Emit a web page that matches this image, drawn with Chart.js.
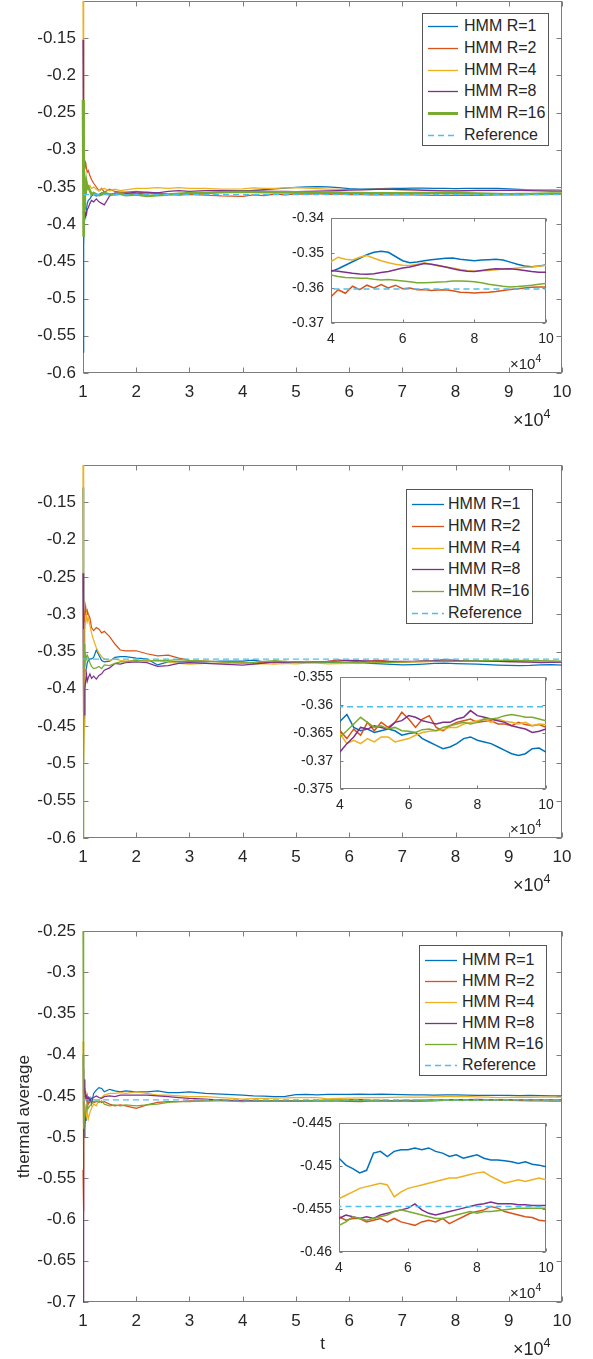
<!DOCTYPE html>
<html>
<head>
<meta charset="utf-8">
<script src="https://cdn.jsdelivr.net/npm/chart.js@4.4.0/dist/chart.umd.min.js"></script>
<style>
  body { margin: 0; background: #fff; }
  #fig { position: relative; width: 593px; height: 1359px; overflow: hidden; background: #fff;
         font-family: 'Liberation Sans', Arial, sans-serif; color: #262626; }
  #fig canvas { position: absolute; }
  .legend { position: absolute; background: #fff; border: 1px solid #555; box-sizing: border-box; }
  .legend-row { position: absolute; left: 0; right: 0; height: 20px; font-size: 16px; line-height: 20px; white-space: nowrap; }
  .legend-row svg { position: absolute; top: 0; }
  .legend-row span { position: absolute; top: 0; }
  .exp { position: absolute; white-space: nowrap; line-height: 1; }
  .exp sup { font-size: 0.7em; position: relative; top: -0.25em; vertical-align: top; }
</style>
</head>
<body>
<div id="fig"></div>
<script>
// time axis, in units of 10^4 steps
const t = [1.000, 1.008, 1.016, 1.025, 1.035, 1.05, 1.065, 1.08, 1.1, 1.13, 1.16, 1.2, 1.25, 1.3, 1.35, 1.4,
  1.5, 1.6, 1.7, 1.8, 2.0, 2.2, 2.4, 2.6, 2.8, 3.0, 3.3, 3.6,
  4.0, 4.2, 4.4, 4.6, 4.8, 5.0, 5.2, 5.4, 5.6, 5.8, 6.0, 6.2, 6.4, 6.6, 6.8, 7.0, 7.2, 7.4, 7.6, 7.8,
  8.0, 8.2, 8.4, 8.6, 8.8, 9.0, 9.2, 9.4, 9.6, 9.8, 10.0];

const seriesLabels = ['HMM R=1', 'HMM R=2', 'HMM R=4', 'HMM R=8', 'HMM R=16', 'Reference'];
const seriesColors = ['#0072BD', '#D95319', '#EDB120', '#7E2F8E', '#77AC30', '#4DBEEE'];

// panel 1
const p1R1 = [-0.572, -0.50, -0.43, -0.39, -0.385, -0.39, -0.38, -0.372, -0.368, -0.366, -0.362, -0.36, -0.362, -0.36, -0.358, -0.358,
  -0.36, -0.359, -0.358, -0.358, -0.359, -0.358, -0.358, -0.36, -0.36, -0.359, -0.358, -0.357,
  -0.3553, -0.3545, -0.3535, -0.3525, -0.3515, -0.3505, -0.3498, -0.3495, -0.3498, -0.3510, -0.3522, -0.3528, -0.3526, -0.3522, -0.3519, -0.3517,
  -0.3515, -0.3514, -0.3518, -0.3520, -0.3522, -0.3520, -0.3519, -0.3518, -0.3520, -0.3526, -0.3532, -0.3537, -0.3539, -0.3537, -0.3534];
const p1R2 = [-0.35, -0.32, -0.33, -0.325, -0.315, -0.317, -0.325, -0.33, -0.328, -0.335, -0.34, -0.345, -0.35, -0.355, -0.352, -0.357,
  -0.353, -0.356, -0.357, -0.357, -0.356, -0.358, -0.359, -0.36, -0.361, -0.36, -0.361, -0.362,
  -0.3625, -0.3605, -0.3615, -0.3595, -0.3605, -0.3592, -0.3600, -0.3590, -0.3600, -0.3592, -0.3602, -0.3600, -0.3605, -0.3604, -0.3607, -0.3606,
  -0.3605, -0.3608, -0.3612, -0.3613, -0.3614, -0.3613, -0.3612, -0.3610, -0.3607, -0.3604, -0.3602, -0.3600, -0.3598, -0.3597, -0.3597];
const p1R4 = [-0.10, -0.152, -0.30, -0.34, -0.345, -0.34, -0.35, -0.345, -0.35, -0.348, -0.352, -0.35, -0.353, -0.355, -0.353, -0.352,
  -0.355, -0.353, -0.355, -0.354, -0.352, -0.352, -0.351, -0.352, -0.351, -0.352, -0.352, -0.353,
  -0.3525, -0.3512, -0.3518, -0.3520, -0.3512, -0.3507, -0.3515, -0.3522, -0.3528, -0.3532, -0.3535, -0.3536, -0.3533, -0.3528, -0.3532, -0.3537,
  -0.3540, -0.3543, -0.3547, -0.3550, -0.3552, -0.3551, -0.3550, -0.3548, -0.3546, -0.3545, -0.3543, -0.3541, -0.3540, -0.3538, -0.3535];
const p1R8 = [-0.152, -0.233, -0.36, -0.39, -0.388, -0.385, -0.387, -0.38, -0.378, -0.372, -0.368, -0.37, -0.366, -0.37, -0.372, -0.374,
  -0.362, -0.358, -0.359, -0.359, -0.357, -0.357, -0.358, -0.356, -0.355, -0.356, -0.355, -0.355,
  -0.3550, -0.3552, -0.3555, -0.3558, -0.3560, -0.3561, -0.3559, -0.3556, -0.3553, -0.3548, -0.3543, -0.3540, -0.3535, -0.3530, -0.3532, -0.3536,
  -0.3540, -0.3545, -0.3549, -0.3552, -0.3553, -0.3550, -0.3547, -0.3545, -0.3546, -0.3545, -0.3547, -0.3550, -0.3553, -0.3555, -0.3555];
const p1R16 = [-0.233, -0.417, -0.30, -0.38, -0.34, -0.36, -0.345, -0.352, -0.35, -0.355, -0.36, -0.358, -0.36, -0.361, -0.36, -0.358,
  -0.36, -0.36, -0.359, -0.361, -0.36, -0.362, -0.361, -0.36, -0.359, -0.358, -0.358, -0.357,
  -0.3563, -0.3567, -0.3570, -0.3571, -0.3572, -0.3572, -0.3575, -0.3577, -0.3576, -0.3578, -0.3580, -0.3582, -0.3585, -0.3585, -0.3584, -0.3583,
  -0.3582, -0.3580, -0.3580, -0.3581, -0.3582, -0.3585, -0.3589, -0.3592, -0.3595, -0.3597, -0.3596, -0.3594, -0.3592, -0.3589, -0.3587];
const p1Ref = -0.3603;

// panel 2
const p2R1 = [-0.13, -0.40, -0.385, -0.38, -0.378, -0.375, -0.372, -0.365, -0.362, -0.36, -0.36, -0.358, -0.348, -0.355, -0.362, -0.364,
  -0.363, -0.358, -0.357, -0.357, -0.359, -0.36, -0.368, -0.364, -0.364, -0.364, -0.364, -0.363,
  -0.3629, -0.3617, -0.3640, -0.3646, -0.3643, -0.3649, -0.3646, -0.3643, -0.3646, -0.3654, -0.3651, -0.3649, -0.3660, -0.3666, -0.3672, -0.3678,
  -0.3675, -0.3669, -0.3660, -0.3657, -0.3663, -0.3666, -0.3669, -0.3675, -0.3681, -0.3687, -0.3690, -0.3687, -0.3678, -0.3677, -0.3684];
const p2R2 = [-0.33, -0.28, -0.30, -0.31, -0.30, -0.29, -0.30, -0.295, -0.30, -0.305, -0.318, -0.322, -0.318, -0.32, -0.325, -0.323,
  -0.33, -0.34, -0.348, -0.349, -0.349, -0.353, -0.356, -0.355, -0.359, -0.362, -0.363, -0.364,
  -0.3646, -0.3660, -0.3643, -0.3654, -0.3631, -0.3646, -0.3631, -0.3640, -0.3631, -0.3613, -0.3625, -0.3640, -0.3625, -0.3619, -0.3640, -0.3646,
  -0.3637, -0.3631, -0.3628, -0.3625, -0.3631, -0.3629, -0.3628, -0.3634, -0.3634, -0.3637, -0.3631, -0.3635, -0.3637, -0.3635, -0.3640];
const p2R4 = [-0.10, -0.24, -0.50, -0.45, -0.32, -0.31, -0.30, -0.31, -0.305, -0.315, -0.325, -0.335, -0.345, -0.352, -0.357, -0.36,
  -0.362, -0.36, -0.362, -0.363, -0.362, -0.362, -0.363, -0.364, -0.366, -0.367, -0.366, -0.366,
  -0.3651, -0.3669, -0.3663, -0.3669, -0.3660, -0.3666, -0.3657, -0.3657, -0.3666, -0.3663, -0.3660, -0.3654, -0.3649, -0.3647, -0.3646, -0.3644,
  -0.3640, -0.3640, -0.3634, -0.3631, -0.3628, -0.3625, -0.3631, -0.3625, -0.3629, -0.3631, -0.3634, -0.3631, -0.3637, -0.3634, -0.3635];
const p2R8 = [-0.245, -0.44, -0.42, -0.435, -0.40, -0.39, -0.38, -0.39, -0.385, -0.38, -0.386, -0.383, -0.387, -0.382, -0.38, -0.375,
  -0.372, -0.366, -0.367, -0.365, -0.364, -0.365, -0.37, -0.369, -0.366, -0.365, -0.366, -0.367,
  -0.3684, -0.3669, -0.3657, -0.3640, -0.3643, -0.3637, -0.3640, -0.3643, -0.3631, -0.3628, -0.3619, -0.3622, -0.3628, -0.3631, -0.3634, -0.3631,
  -0.3631, -0.3625, -0.3622, -0.3610, -0.3619, -0.3622, -0.3625, -0.3628, -0.3631, -0.3637, -0.3640, -0.3643, -0.3649, -0.3647, -0.3643];
const p2R16 = [-0.60, -0.32, -0.38, -0.34, -0.37, -0.355, -0.36, -0.355, -0.358, -0.365, -0.37, -0.373, -0.372, -0.37, -0.373, -0.368,
  -0.369, -0.366, -0.364, -0.364, -0.362, -0.363, -0.362, -0.362, -0.361, -0.362, -0.363, -0.364,
  -0.3657, -0.3646, -0.3634, -0.3622, -0.3631, -0.3640, -0.3637, -0.3643, -0.3640, -0.3646, -0.3647, -0.3649, -0.3644, -0.3643, -0.3646, -0.3640,
  -0.3637, -0.3634, -0.3631, -0.3634, -0.3631, -0.3625, -0.3625, -0.3623, -0.3619, -0.3617, -0.3619, -0.3622, -0.3622, -0.3625, -0.3628];
const p2Ref = -0.3603;

// panel 3
const p3R1 = [-0.40, -0.47, -0.49, -0.50, -0.49, -0.47, -0.48, -0.46, -0.455, -0.452, -0.46, -0.447, -0.443, -0.44, -0.441, -0.445,
  -0.442, -0.444, -0.445, -0.444, -0.445, -0.445, -0.444, -0.446, -0.446, -0.445, -0.447, -0.448,
  -0.4491, -0.4499, -0.4503, -0.4508, -0.4505, -0.4485, -0.4483, -0.4489, -0.4483, -0.4481, -0.4481, -0.4479, -0.4481, -0.4479, -0.4483, -0.4485,
  -0.4489, -0.4487, -0.4491, -0.4489, -0.4487, -0.4491, -0.4493, -0.4493, -0.4494, -0.4495, -0.4497, -0.4495, -0.4498, -0.4499, -0.4501];
const p3R2 = [-0.54, -0.59, -0.45, -0.44, -0.443, -0.445, -0.455, -0.45, -0.46, -0.457, -0.456, -0.458, -0.457, -0.456, -0.458, -0.457,
  -0.46, -0.462, -0.461, -0.462, -0.465, -0.461, -0.458, -0.457, -0.457, -0.456, -0.456, -0.455,
  -0.4559, -0.4563, -0.4561, -0.4561, -0.4565, -0.4563, -0.4561, -0.4565, -0.4561, -0.4565, -0.4567, -0.4569, -0.4565, -0.4563, -0.4565, -0.4561,
  -0.4567, -0.4563, -0.4559, -0.4555, -0.4553, -0.4551, -0.4547, -0.4549, -0.4553, -0.4555, -0.4557, -0.4559, -0.4560, -0.4563, -0.4564];
const p3R4 = [-0.384, -0.54, -0.45, -0.47, -0.46, -0.465, -0.475, -0.47, -0.478, -0.47, -0.465, -0.46, -0.462, -0.455, -0.452, -0.449,
  -0.447, -0.447, -0.446, -0.447, -0.445, -0.447, -0.449, -0.449, -0.45, -0.451, -0.451, -0.452,
  -0.4538, -0.4534, -0.4530, -0.4526, -0.4524, -0.4522, -0.4520, -0.4522, -0.4536, -0.4530, -0.4526, -0.4524, -0.4522, -0.4520, -0.4518, -0.4516,
  -0.4514, -0.4514, -0.4512, -0.4510, -0.4508, -0.4507, -0.4512, -0.4516, -0.4520, -0.4518, -0.4516, -0.4518, -0.4516, -0.4514, -0.4516];
const p3R8 = [-0.70, -0.417, -0.44, -0.43, -0.445, -0.452, -0.45, -0.455, -0.452, -0.456, -0.453, -0.452, -0.45, -0.452, -0.453, -0.451,
  -0.45, -0.451, -0.449, -0.449, -0.449, -0.449, -0.45, -0.451, -0.452, -0.453, -0.454, -0.455,
  -0.4561, -0.4557, -0.4559, -0.4561, -0.4559, -0.4561, -0.4557, -0.4555, -0.4553, -0.4551, -0.4549, -0.4544, -0.4551, -0.4555, -0.4557, -0.4555,
  -0.4553, -0.4551, -0.4549, -0.4547, -0.4545, -0.4544, -0.4542, -0.4544, -0.4544, -0.4544, -0.4545, -0.4545, -0.4546, -0.4546, -0.4546];
const p3R16 = [-0.25, -0.384, -0.49, -0.47, -0.475, -0.47, -0.465, -0.46, -0.465, -0.462, -0.46, -0.457, -0.456, -0.458, -0.456, -0.46,
  -0.462, -0.461, -0.462, -0.461, -0.462, -0.461, -0.46, -0.458, -0.457, -0.457, -0.456, -0.456,
  -0.4569, -0.4565, -0.4559, -0.4561, -0.4563, -0.4561, -0.4559, -0.4557, -0.4553, -0.4551, -0.4553, -0.4555, -0.4557, -0.4559, -0.4561, -0.4561,
  -0.4559, -0.4557, -0.4555, -0.4553, -0.4555, -0.4553, -0.4553, -0.4552, -0.4551, -0.4550, -0.4549, -0.4549, -0.4549, -0.4549, -0.4549];
const p3Ref = -0.4547;

// ticks
const mainXTicks = [1, 2, 3, 4, 5, 6, 7, 8, 9, 10];
const insetXTicks = [4, 6, 8, 10];
const p1YTicks = [-0.6, -0.55, -0.5, -0.45, -0.4, -0.35, -0.3, -0.25, -0.2, -0.15];
const p2YTicks = [-0.6, -0.55, -0.5, -0.45, -0.4, -0.35, -0.3, -0.25, -0.2, -0.15];
const p3YTicks = [-0.7, -0.65, -0.6, -0.55, -0.5, -0.45, -0.4, -0.35, -0.3, -0.25];
const p1InsetYTicks = [-0.37, -0.36, -0.35, -0.34];
const p2InsetYTicks = [-0.375, -0.37, -0.365, -0.36, -0.355];
const p3InsetYTicks = [-0.46, -0.455, -0.45, -0.445];

const FONT = "'Liberation Sans', Arial, sans-serif";
const TEXT = '#262626';
const AXIS = '#7d7d7d';

const fig = document.getElementById('fig');

function addCanvas(left, top, w, h) {
  const c = document.createElement('canvas');
  c.width = w; c.height = h;
  c.style.left = left + 'px'; c.style.top = top + 'px';
  c.style.width = w + 'px'; c.style.height = h + 'px';
  fig.appendChild(c);
  return c;
}

// white plot box, frame and inward ticks on all four sides, drawn under the lines
const axisFrame = {
  id: 'axisFrame',
  beforeDatasetsDraw(chart, args, opts) {
    const { ctx, chartArea: a, scales: { x, y } } = chart;
    const len = opts.tickLen;
    const L = Math.round(a.left) + 0.5, R = Math.round(a.right) - 0.5;
    const T = Math.round(a.top) + 0.5, B = Math.round(a.bottom) - 0.5;
    ctx.save();
    ctx.fillStyle = '#fff';
    ctx.fillRect(a.left, a.top, a.width, a.height);
    ctx.strokeStyle = AXIS;
    ctx.lineWidth = 1;
    ctx.beginPath();
    x.ticks.forEach(tk => {
      const px = Math.round(x.getPixelForValue(tk.value)) + 0.5;
      ctx.moveTo(px, B); ctx.lineTo(px, B - len);
      ctx.moveTo(px, T); ctx.lineTo(px, T + len);
    });
    y.ticks.forEach(tk => {
      const py = Math.round(y.getPixelForValue(tk.value)) + 0.5;
      ctx.moveTo(L, py); ctx.lineTo(L + len, py);
      ctx.moveTo(R, py); ctx.lineTo(R - len, py);
    });
    ctx.stroke();
    ctx.strokeRect(L, T, R - L, B - T);
    ctx.restore();
  }
};

function makeChart(canvas, cfg) {
  const datasets = cfg.series.map((vals, i) => ({
    label: seriesLabels[i],
    data: t.map((x, k) => ({ x, y: vals[k] })),
    borderColor: seriesColors[i],
    borderWidth: cfg.thick && i === 4 ? 2.6 : cfg.lineWidth,
    pointRadius: 0,
    tension: 0,
    clip: cfg.clip,
    order: 6 - i
  }));
  datasets.push({
    label: seriesLabels[5],
    data: [{ x: 1, y: cfg.ref }, { x: 10, y: cfg.ref }],
    borderColor: seriesColors[5],
    borderWidth: cfg.lineWidth,
    borderDash: [6, 4],
    pointRadius: 0,
    clip: cfg.clip,
    order: 0
  });
  const font = { family: FONT, size: cfg.fontSize };
  return new Chart(canvas, {
    type: 'line',
    data: { datasets },
    plugins: [axisFrame],
    options: {
      responsive: false,
      animation: false,
      events: [],
      layout: { padding: { top: cfg.padTop, right: cfg.padRight, bottom: 0, left: 0 } },
      scales: {
        x: {
          type: 'linear', min: cfg.xMin, max: 10,
          grid: { display: false, drawTicks: false },
          border: { display: false },
          afterBuildTicks: s => { s.ticks = cfg.xTicks.map(value => ({ value })); },
          afterFit: s => { s.height = cfg.xHeight; },
          ticks: { font, color: TEXT, padding: cfg.xPad, maxRotation: 0, autoSkip: false, callback: v => String(v) },
          title: cfg.xTitle
            ? { display: true, text: cfg.xTitle, font: { family: FONT, size: 17 }, color: TEXT, padding: { top: 0, bottom: 4 } }
            : { display: false }
        },
        y: {
          type: 'linear', min: cfg.yMin, max: cfg.yMax,
          grid: { display: false, drawTicks: false },
          border: { display: false },
          afterBuildTicks: s => { s.ticks = cfg.yTicks.map(value => ({ value })); },
          afterFit: s => { s.width = cfg.yWidth; },
          ticks: { font, color: TEXT, padding: cfg.yPad, autoSkip: false, callback: v => String(v) },
          title: cfg.yTitle
            ? { display: true, text: cfg.yTitle, font: { family: FONT, size: 17 }, color: TEXT, padding: { top: 14, bottom: 0 } }
            : { display: false }
        }
      },
      plugins: {
        legend: { display: false },
        tooltip: { enabled: false },
        axisFrame: { tickLen: cfg.tickLen }
      }
    }
  });
}

function makeLegend(lg, thick) {
  const box = document.createElement('div');
  box.className = 'legend';
  Object.assign(box.style, { left: lg.left + 'px', top: lg.top + 'px', width: lg.width + 'px', height: lg.height + 'px' });
  seriesLabels.forEach((label, i) => {
    const row = document.createElement('div');
    row.className = 'legend-row';
    row.style.top = (lg.first + i * lg.step - 10) + 'px';
    const w = lg.sample[1] - lg.sample[0];
    const sw = thick && i === 4 ? 3 : 1.3;
    const dash = i === 5 ? ' stroke-dasharray="6 4"' : '';
    row.innerHTML = `<svg width="${w}" height="20" style="left:${lg.sample[0]}px"><line x1="0" y1="10.5" x2="${w}" y2="10.5" stroke="${seriesColors[i]}" stroke-width="${sw}"${dash}/></svg><span style="left:${lg.text}px">${label}</span>`;
    box.appendChild(row);
  });
  fig.appendChild(box);
}

function addExp(x, y, size) {
  const d = document.createElement('div');
  d.className = 'exp';
  d.style.left = x + 'px'; d.style.top = y + 'px'; d.style.fontSize = size + 'px';
  d.innerHTML = '&times;10<sup>4</sup>';
  fig.appendChild(d);
}

const panels = [
  { series: [p1R1, p1R2, p1R4, p1R8, p1R16], ref: p1Ref, thick: true,
    top: -20, height: 460, padTop: 21, xHeight: 67, yMin: -0.6, yMax: -0.1, yTicks: p1YTicks,
    inset: { top: 200, padTop: 18, xHeight: 57, yWidth: 51, yMin: -0.37, yMax: -0.34, yTicks: p1InsetYTicks },
    legend: { left: 422, top: 13, width: 127, height: 133, first: 12, step: 21.8, sample: [5, 35], text: 41 },
    exp: [513, 411], insetExp: [510, 356] },
  { series: [p2R1, p2R2, p2R4, p2R8, p2R16], ref: p2Ref, thick: false,
    top: 440, height: 440, padTop: 25, xHeight: 42, yMin: -0.6, yMax: -0.1, yTicks: p2YTicks,
    inset: { top: 660, padTop: 17, xHeight: 51, yWidth: 60, yMin: -0.375, yMax: -0.355, yTicks: p2InsetYTicks },
    legend: { left: 406, top: 489, width: 127, height: 135, first: 14, step: 21.8, sample: [5, 37], text: 41 },
    exp: [513, 876], insetExp: [510, 821] },
  { series: [p3R1, p3R2, p3R4, p3R8, p3R16], ref: p3Ref, thick: false,
    top: 880, height: 479, padTop: 51, xHeight: 57, yMin: -0.7, yMax: -0.25, yTicks: p3YTicks,
    xTitle: 't', yTitle: 'thermal average',
    inset: { top: 1100, padTop: 23, xHeight: 28, yWidth: 59, yMin: -0.46, yMax: -0.445, yTicks: p3InsetYTicks },
    legend: { left: 419, top: 945, width: 128, height: 131, first: 14, step: 21, sample: [5, 37], text: 42 },
    exp: [513, 1340], insetExp: [510, 1285] }
];

panels.forEach(p => {
  makeChart(addCanvas(0, p.top, 593, p.height), {
    series: p.series, ref: p.ref, thick: p.thick, lineWidth: 1.25, clip: 3,
    padTop: p.padTop, padRight: 31, xHeight: p.xHeight, yWidth: 83,
    xMin: 1, xTicks: mainXTicks, yMin: p.yMin, yMax: p.yMax, yTicks: p.yTicks,
    fontSize: 17, xPad: 9, yPad: 7, tickLen: 5, xTitle: p.xTitle, yTitle: p.yTitle
  });
  const ins = p.inset;
  makeChart(addCanvas(280, ins.top, 290, 180), {
    series: p.series, ref: p.ref, thick: false, lineWidth: 1.5, clip: 0,
    padTop: ins.padTop, padRight: 24, xHeight: ins.xHeight, yWidth: ins.yWidth,
    xMin: 4, xTicks: insetXTicks, yMin: ins.yMin, yMax: ins.yMax, yTicks: ins.yTicks,
    fontSize: 14, xPad: 8, yPad: 7, tickLen: 3
  });
  makeLegend(p.legend, p.thick);
  addExp(p.exp[0], p.exp[1], 18);
  addExp(p.insetExp[0], p.insetExp[1], 15);
});
</script>
</body>
</html>
